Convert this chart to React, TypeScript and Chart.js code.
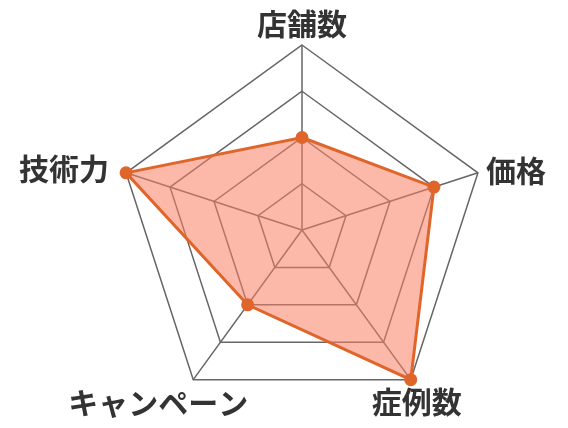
import { useEffect, useRef } from 'react'
import { Chart, registerables } from 'chart.js'

Chart.register(...registerables)

const labels = ['店舗数', '価格', '症例数', 'キャンペーン', '技術力']
const values = [2, 3, 4, 2, 4]

// where each axis name sits relative to its outer vertex
const labelPlace: { align: CanvasTextAlign; dx: number; dy: number }[] = [
  { align: 'center', dx: 0, dy: -21 },
  { align: 'left', dx: 8, dy: -2 },
  { align: 'center', dx: 6, dy: 22 },
  { align: 'center', dx: -35, dy: 23 },
  { align: 'right', dx: -17, dy: -4 },
]

const axisNames = {
  id: 'axisNames',
  afterDraw(chart: Chart) {
    const scale: any = chart.scales.r
    const ctx = chart.ctx
    ctx.save()
    ctx.font = 'bold 30px "Noto Sans CJK JP", "Noto Sans", sans-serif'
    ctx.fillStyle = '#333'
    ctx.textBaseline = 'middle'
    labels.forEach((name, i) => {
      const p = scale.getPointPosition(i, scale.drawingArea)
      const pl = labelPlace[i]
      ctx.textAlign = pl.align
      ctx.fillText(name, p.x + pl.dx, p.y + pl.dy)
    })
    ctx.restore()
  },
}

export default function App() {
  const canvasRef = useRef<HTMLCanvasElement>(null)
  const chartRef = useRef<Chart | null>(null)

  useEffect(() => {
    document.body.style.margin = '0'
    if (!canvasRef.current) return
    chartRef.current?.destroy()
    chartRef.current = new Chart(canvasRef.current.getContext('2d')!, {
      type: 'radar',
      data: {
        labels,
        datasets: [{
          data: values,
          backgroundColor: 'rgba(250,128,100,0.55)',
          borderColor: '#e0652b',
          borderWidth: 3,
          pointBackgroundColor: '#e0652b',
          pointBorderColor: '#e0652b',
          pointRadius: 5,
        }],
      },
      options: {
        responsive: false,
        animation: false,
        layout: { padding: { top: 45, bottom: 13, left: 36, right: 0 } },
        plugins: { legend: { display: false }, tooltip: { enabled: false } },
        scales: {
          r: {
            min: 0,
            max: 4,
            ticks: { stepSize: 1, display: false },
            grid: { color: '#666', lineWidth: 1.5 },
            angleLines: { color: '#666', lineWidth: 1.5 },
            pointLabels: { display: false },
          },
        },
      },
      plugins: [axisNames],
    })
    return () => { chartRef.current?.destroy() }
  }, [])

  return (
    <div style={{ width: 568, height: 428 }}>
      <canvas ref={canvasRef} width={568} height={428} />
    </div>
  )
}
